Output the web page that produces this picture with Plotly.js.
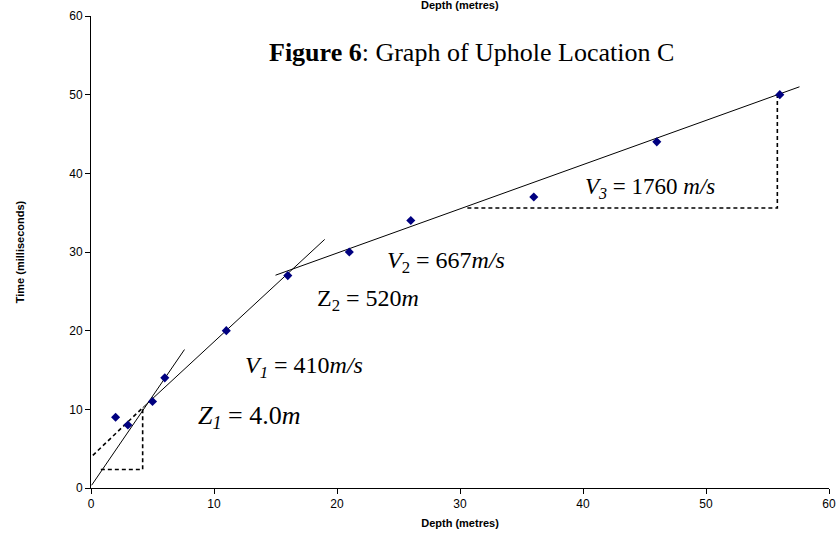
<!DOCTYPE html>
<html>
<head>
<meta charset="utf-8">
<script src="https://cdn.plot.ly/plotly-3.0.1.min.js"></script>
<style>html,body{margin:0;padding:0;background:#fff;}</style>
</head>
<body>
<div id="chart" style="width:836px;height:540px;"></div>
<script>
// Measured points
var depth = [2, 3, 5, 6, 11, 16, 21, 26, 36, 46, 56];
var time = [9, 8, 11, 14, 20, 27, 30, 34, 37, 44, 50];

// Fitted segments (solid)
var seg1X = [0.05, 7.6];   var seg1Y = [0.35, 17.6];
var seg2X = [4.2, 19.0];   var seg2Y = [10.2, 31.6];
var seg3X = [15.0, 57.6];  var seg3Y = [27.05, 51.0];

// Construction lines (dashed)
var ext2X = [0.15, 4.2];   var ext2Y = [4.15, 10.2];
var box1X = [0.8, 4.2, 4.2]; var box1Y = [2.35, 2.35, 10.2];
var box3X = [30.6, 55.8, 55.8]; var box3Y = [35.6, 35.6, 50.1];

var xTicks = [0, 10, 20, 30, 40, 50, 60];
var yTicks = [0, 10, 20, 30, 40, 50, 60];

var solid = {color: '#000', width: 1};
var dashed = {color: '#000', width: 1.6, dash: '4px,3px'};

var traces = [
  {x: seg1X, y: seg1Y, mode: 'lines', line: solid, hoverinfo: 'skip'},
  {x: seg2X, y: seg2Y, mode: 'lines', line: solid, hoverinfo: 'skip'},
  {x: seg3X, y: seg3Y, mode: 'lines', line: solid, hoverinfo: 'skip'},
  {x: ext2X, y: ext2Y, mode: 'lines', line: dashed, hoverinfo: 'skip'},
  {x: box1X, y: box1Y, mode: 'lines', line: dashed, hoverinfo: 'skip'},
  {x: box3X, y: box3Y, mode: 'lines', line: dashed, hoverinfo: 'skip'},
  {x: depth, y: time, mode: 'markers',
   marker: {symbol: 'diamond', size: 7, color: '#000080'}}
];

var serif = 'Liberation Serif, Times New Roman, serif';
var sans = 'Liberation Sans, Arial, sans-serif';

var layout = {
  width: 836, height: 540,
  margin: {l: 91, r: 7, t: 16, b: 52},
  paper_bgcolor: '#fff', plot_bgcolor: '#fff',
  showlegend: false,
  xaxis: {
    range: [0, 60], tickvals: xTicks, ticktext: xTicks.map(String),
    showgrid: false, zeroline: false, showline: true, linecolor: '#000', linewidth: 1,
    ticks: 'outside', ticklen: 5, tickcolor: '#000',
    tickfont: {family: sans, size: 12, color: '#000'},
    title: {text: '<b>Depth (metres)</b>', font: {family: sans, size: 11, color: '#000'}, standoff: 8}
  },
  yaxis: {
    range: [0, 60], tickvals: yTicks, ticktext: yTicks.map(String),
    showgrid: false, zeroline: false, showline: true, linecolor: '#000', linewidth: 1,
    ticks: 'outside', ticklen: 5, tickcolor: '#000',
    tickfont: {family: sans, size: 12, color: '#000'},
    title: {text: '<b>Time (milliseconds)</b>', font: {family: sans, size: 11, color: '#000'}, standoff: 42}
  },
  annotations: [
    {xref: 'paper', yref: 'paper', x: 0.5, y: 1.0233, yanchor: 'middle', showarrow: false,
     text: '<b>Depth (metres)</b>', font: {family: sans, size: 11, color: '#000'}},
    {x: 30.9, y: 55.4, showarrow: false, text: '<b>Figure 6</b>: Graph of Uphole Location C',
     font: {family: serif, size: 26, color: '#000'}},
    {x: 12.87, y: 9.06, showarrow: false, text: '<i>Z<sub>1</sub></i> = 4.0<i>m</i>',
     font: {family: serif, size: 26, color: '#000'}},
    {x: 17.35, y: 15.4, showarrow: false, text: '<i>V<sub>1</sub></i> = 410<i>m/s</i>',
     font: {family: serif, size: 24, color: '#000'}},
    {x: 22.5, y: 23.9, showarrow: false, text: 'Z<sub>2</sub> = 520<i>m</i>',
     font: {family: serif, size: 24, color: '#000'}},
    {x: 28.9, y: 28.75, showarrow: false, text: '<i>V</i><sub>2</sub> = 667<i>m/s</i>',
     font: {family: serif, size: 24, color: '#000'}},
    {x: 45.46, y: 38.16, showarrow: false, text: '<i>V<sub>3</sub></i> = 1760 <i>m/s</i>',
     font: {family: serif, size: 23, color: '#000'}}
  ]
};

Plotly.newPlot('chart', traces, layout, {displayModeBar: false, staticPlot: true});
</script>
</body>
</html>
